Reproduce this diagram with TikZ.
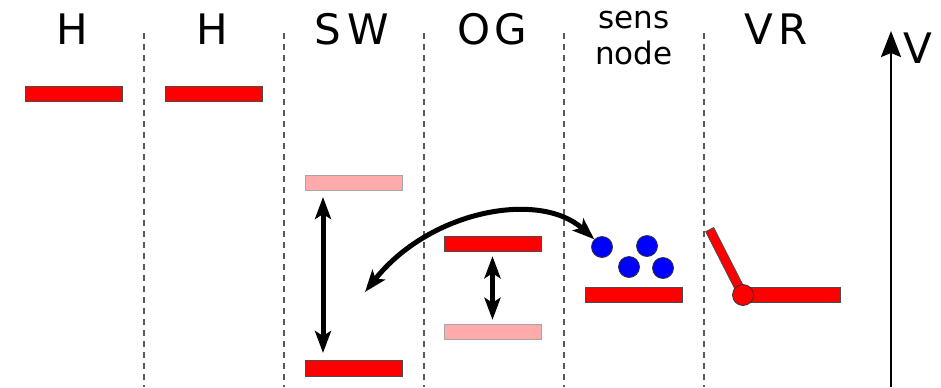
\documentclass[tikz,border=0pt]{standalone}
\usepackage{fontspec}
\setsansfont{DejaVu Sans}
\usetikzlibrary{positioning,calc,arrows.meta}
\tikzset{BAR/.style={rectangle,draw=black!70,thin,fill=red,minimum width=48.5pt,minimum height=7.8pt,inner sep=0pt}}
\tikzset{GHOST/.style={BAR,draw=black!35,fill=red!33}}
\tikzset{ION/.style={circle,draw=black!80,thin,fill=blue,minimum size=10.5pt,inner sep=0pt}}
\tikzset{HINGE/.style={circle,draw=black!80,thin,fill=red,minimum size=10.5pt,inner sep=0pt}}
\tikzset{LABEL/.style={font=\sffamily\fontsize{21}{24}\selectfont,inner sep=0pt}}
\tikzset{SMALL/.style={font=\sffamily\fontsize{15.5}{18}\selectfont,inner sep=0pt,align=center}}
\tikzset{DIV/.style={dash pattern=on 3pt off 2.5pt,black!65,line width=0.6pt}}
\tikzset{ARROW/.style={line width=2.5pt,{Stealth[length=11pt,width=8pt,inset=2.5pt]}-{Stealth[length=11pt,width=8pt,inset=2.5pt]}}}
\tikzset{AXIS/.style={line width=1.1pt,-{Stealth[length=13pt,width=10pt,inset=2pt]}}}

\begin{document}
\begin{tikzpicture}[x=0.5pt,y=-0.5pt]
\useasboundingbox (0,0) rectangle (941,387);

% column dividers
\foreach \xd in {144,284,424,564,704}
  \draw[DIV] (\xd,33) -- (\xd,387);

% headings
\node[LABEL,anchor=base] (t_h1) at (72,44) {H};
\node[LABEL,anchor=base] (t_h2) at (212,44) {H};
\node[LABEL,anchor=base] (t_sw) at (352,44) {S\kern3pt W};
\node[LABEL,anchor=base] (t_og) at (492,44) {O\kern2pt G};
\node[SMALL] (t_sens) at (634,38) {sens\\node};
\node[LABEL,anchor=base] (t_vr) at (776,44) {V\kern3pt R};

% levels
\node[BAR] (n_h1) at (73.5,94) {};
\node[BAR] (n_h2) at (214,94) {};
\node[GHOST] (n_sw_hi) at (354,183) {};
\node[BAR] (n_sw_lo) at (354,368.5) {};
\node[BAR] (n_og_hi) at (492.5,244) {};
\node[GHOST] (n_og_lo) at (492.5,332) {};
\node[BAR] (n_sens) at (634,295) {};

% ions
\node[ION] (n_ion1) at (602,247) {};
\node[ION] (n_ion2) at (647,246) {};
\node[ION] (n_ion3) at (629,267) {};
\node[ION] (n_ion4) at (663,268) {};

% valve
\coordinate (c_hinge) at (743,295);
\node[BAR,minimum width=36.5pt,minimum height=4.5pt,rotate=117,anchor=west] (n_flap) at (c_hinge) {};
\node[BAR,anchor=west] (n_vr) at (c_hinge) {};
\node[HINGE] (n_hinge) at (c_hinge) {};

% arrows
\coordinate (c_sw_top) at (323,197);
\coordinate (c_sw_bot) at (323,353);
\draw[ARROW] (c_sw_top) -- (c_sw_bot);
\draw[ARROW,shorten <=2pt,shorten >=2pt] (n_og_hi.south) -- (n_og_lo.north);

\coordinate (c_sw_mid) at (365,292);
\draw[ARROW] (c_sw_mid) .. controls (430,210) and (540,190) .. (n_ion1.north west);

\coordinate (c_axis) at (891,387);
\coordinate (c_axis_top) at (891,31);
\draw[AXIS] (c_axis) -- (c_axis_top);
\node[LABEL,anchor=base] (t_v) at (918,63) {V};

\end{tikzpicture}
\end{document}
